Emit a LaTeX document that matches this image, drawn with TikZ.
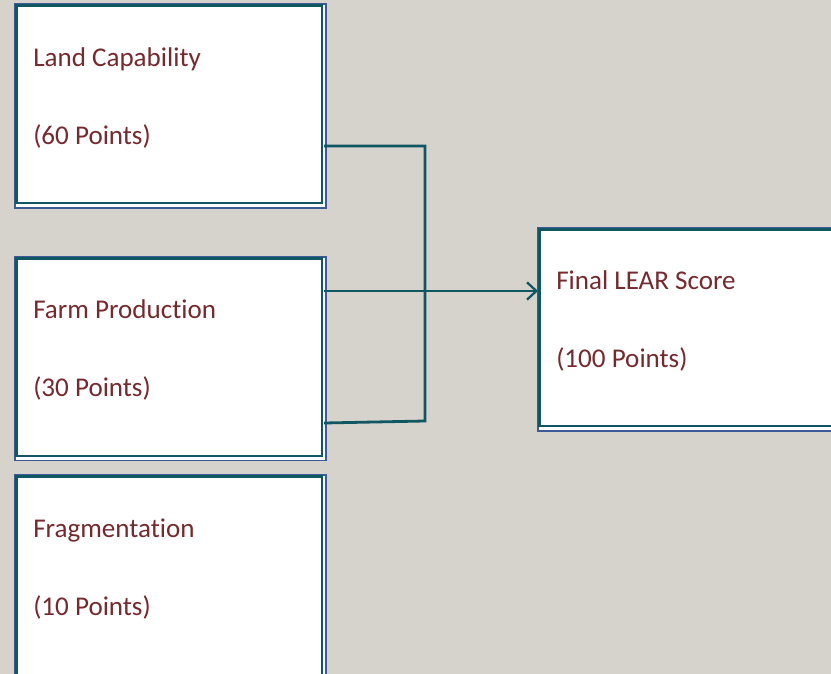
\documentclass[tikz,border=0pt]{standalone}
\usepackage{fontspec}
\setmainfont{Carlito}[Ligatures=NoCommon]
\usetikzlibrary{arrows.meta}
\definecolor{bgc}{HTML}{D6D2CC}
\definecolor{txtc}{HTML}{742A2E}
\definecolor{tealc}{HTML}{115663}
\definecolor{bluec}{HTML}{3C5A96}
\tikzset{
  shadowbox/.style={draw=bluec, line width=0.8pt, fill=white},
  innerbox/.style={draw=tealc, line width=1.6pt},
  lbl/.style={anchor=base west, inner sep=0pt, text=txtc, font=\fontsize{20.3}{24}\selectfont},
  conn/.style={draw=tealc, line width=2.1pt},
  arr/.style={conn, -{Straight Barb[length=7pt,width=13pt,line width=1.7pt]}}
}
\begin{document}
\begin{tikzpicture}[x=0.75pt,y=-0.75pt]
\useasboundingbox (0,0) rectangle (831,674);
\fill[bgc] (0,0) rectangle (831,674);
% box 1
\draw[shadowbox] (15,4) rectangle (326,208);
\draw[innerbox] (16.5,5.5) rectangle (322,203);
\coordinate (b1r) at (324,146);
\node[lbl] (b1t) at (33,67) {Land Capability};
\node[lbl] (b1p) at (33,144) {(60 Points)};
% box 2
\draw[shadowbox] (15,257) rectangle (326,460.5);
\draw[innerbox] (16.5,258.5) rectangle (322,456);
\coordinate (b2r) at (324,291);
\coordinate (b2b) at (324,423);
\node[lbl] (b2t) at (33,318) {Farm Production};
\node[lbl] (b2p) at (33,396) {(30 Points)};
% box 3
\draw[shadowbox] (15,475) rectangle (326,690);
\draw[innerbox] (16.5,476.5) rectangle (322,686);
\node[lbl] (b3t) at (33,537) {Fragmentation};
\node[lbl] (b3p) at (33,615) {(10 Points)};
% box 4
\draw[shadowbox] (538,228) rectangle (850,431);
\draw[innerbox] (539.5,229.5) rectangle (845,426);
\coordinate (b4l) at (538,291);
\node[lbl] (b4t) at (556,289) {Final LEAR Score};
\node[lbl] (b4p) at (556,367) {(100 Points)};
% connectors
\coordinate (j1) at (425,146);
\coordinate (j2) at (425,421);
\draw[conn] (b1r) -- (j1) -- (j2) -- (b2b);
\draw[arr] (b2r) -- (b4l);
\end{tikzpicture}
\end{document}
